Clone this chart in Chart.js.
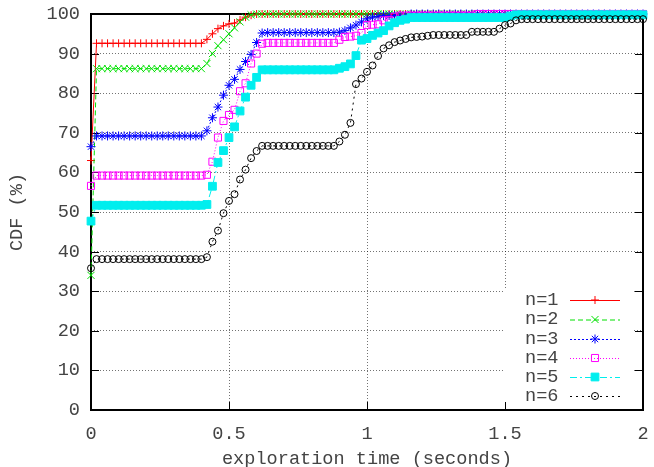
<!DOCTYPE html>
<html>
<head>
<meta charset="utf-8">
<script src="https://cdn.jsdelivr.net/npm/chart.js@4.4.0/dist/chart.umd.min.js"></script>
<style>body{margin:0;background:#fff}</style>
</head>
<body>
<canvas id="cdf" width="654" height="467"></canvas>
<script>
// exploration time (s) at which each CDF sample was taken
var times = [
  0, 0.02, 0.04, 0.06, 0.08, 0.1, 0.12, 0.14, 0.16, 0.18,
  0.2, 0.22, 0.24, 0.26, 0.28, 0.3, 0.32, 0.34, 0.36, 0.38,
  0.4, 0.42, 0.44, 0.46, 0.48, 0.5, 0.52, 0.54, 0.56, 0.58,
  0.6, 0.62, 0.64, 0.66, 0.68, 0.7, 0.72, 0.74, 0.76, 0.78,
  0.8, 0.82, 0.84, 0.86, 0.88, 0.9, 0.92, 0.94, 0.96, 0.98,
  1, 1.02, 1.04, 1.06, 1.08, 1.1, 1.12, 1.14, 1.16, 1.18,
  1.2, 1.22, 1.24, 1.26, 1.28, 1.3, 1.32, 1.34, 1.36, 1.38,
  1.4, 1.42, 1.44, 1.46, 1.48, 1.5, 1.52, 1.54, 1.56, 1.58,
  1.6, 1.62, 1.64, 1.66, 1.68, 1.7, 1.72, 1.74, 1.76, 1.78,
  1.8, 1.82, 1.84, 1.86, 1.88, 1.9, 1.92, 1.94, 1.96, 1.98,
  2
];

var n1 = [
  63, 92.6, 92.6, 92.6, 92.6, 92.6, 92.6, 92.6, 92.6, 92.6,
  92.6, 92.6, 92.6, 92.6, 92.6, 92.6, 92.6, 92.6, 92.6, 92.6,
  92.6, 93.6, 95, 96.3, 97, 97.5, 97.7, 98.5, 99.2, 99.7,
  100, 100, 100, 100, 100, 100, 100, 100, 100, 100,
  100, 100, 100, 100, 100, 100, 100, 100, 100, 100,
  100, 100, 100, 100, 100, 100, 100, 100, 100, 100,
  100, 100, 100, 100, 100, 100, 100, 100, 100, 100,
  100, 100, 100, 100, 100, 100, 100, 100, 100, 100,
  100, 100, 100, 100, 100, 100, 100, 100, 100, 100,
  100, 100, 100, 100, 100, 100, 100, 100, 100, 100,
  100
];
var n2 = [
  34, 86.2, 86.2, 86.2, 86.2, 86.2, 86.2, 86.2, 86.2, 86.2,
  86.2, 86.2, 86.2, 86.2, 86.2, 86.2, 86.2, 86.2, 86.2, 86.2,
  86.2, 87.5, 90, 92, 93.5, 95, 96.5, 98, 99.2, 99.8,
  100, 100, 100, 100, 100, 100, 100, 100, 100, 100,
  100, 100, 100, 100, 100, 100, 100, 100, 100, 100,
  100, 100, 100, 100, 100, 100, 100, 100, 100, 100,
  100, 100, 100, 100, 100, 100, 100, 100, 100, 100,
  100, 100, 100, 100, 100, 100, 100, 100, 100, 100,
  100, 100, 100, 100, 100, 100, 100, 100, 100, 100,
  100, 100, 100, 100, 100, 100, 100, 100, 100, 100,
  100
];
var n3 = [
  66.5, 69.2, 69.2, 69.2, 69.2, 69.2, 69.2, 69.2, 69.2, 69.2,
  69.2, 69.2, 69.2, 69.2, 69.2, 69.2, 69.2, 69.2, 69.2, 69.2,
  69.2, 70.5, 73.8, 76.5, 79.5, 82, 83.5, 86, 88, 89.8,
  92.8, 95.2, 95.3, 95.3, 95.3, 95.3, 95.3, 95.3, 95.3, 95.3,
  95.3, 95.3, 95.3, 95.3, 95.3, 95.4, 95.8, 96.5, 97.2, 98,
  98.8, 99.2, 99.4, 99.6, 99.6, 99.6, 99.6, 99.6, 100, 100,
  100, 100, 100, 100, 100, 100, 100, 100, 100, 100,
  100, 100, 100, 100, 100, 100, 100, 100, 100, 100,
  100, 100, 100, 100, 100, 100, 100, 100, 100, 100,
  100, 100, 100, 100, 100, 100, 100, 100, 100, 100,
  100
];
var n4 = [
  56.6, 59.2, 59.2, 59.2, 59.2, 59.2, 59.2, 59.2, 59.2, 59.2,
  59.2, 59.2, 59.2, 59.2, 59.2, 59.2, 59.2, 59.2, 59.2, 59.2,
  59.2, 59.4, 62.7, 68.8, 73, 74.5, 75.8, 80.5, 82.5, 87.5,
  90, 92.5, 92.7, 92.7, 92.7, 92.7, 92.7, 92.7, 92.7, 92.7,
  92.7, 92.7, 92.7, 92.7, 92.7, 93.5, 94.2, 94.3, 94.5, 95.2,
  97.2, 97.3, 97.4, 98.4, 98.5, 99.3, 99.6, 99.6, 99.6, 99.6,
  99.6, 99.6, 99.6, 99.6, 99.6, 99.6, 99.6, 99.6, 99.6, 99.6,
  100, 100, 100, 100, 100, 100, 100, 100, 100, 100,
  100, 100, 100, 100, 100, 100, 100, 100, 100, 100,
  100, 100, 100, 100, 100, 100, 100, 100, 100, 100,
  100
];
var n5 = [
  47.7, 51.7, 51.7, 51.7, 51.7, 51.7, 51.7, 51.7, 51.7, 51.7,
  51.7, 51.7, 51.7, 51.7, 51.7, 51.7, 51.7, 51.7, 51.7, 51.7,
  51.7, 51.9, 56.5, 62.5, 65.5, 68.8, 71.5, 75.5, 79, 82,
  84, 85.9, 85.9, 85.9, 85.9, 85.9, 85.9, 85.9, 85.9, 85.9,
  85.9, 85.9, 85.9, 85.9, 85.9, 86.3, 86.7, 87.4, 89.5, 93.4,
  93.8, 94.6, 95.2, 95.8, 97, 97.8, 98.4, 98.7, 99.1, 99.1,
  99.1, 99.1, 99.1, 99.1, 99.1, 99.1, 99.1, 99.1, 99.1, 99.1,
  99.1, 99.1, 99.1, 99.1, 99.1, 99.1, 99.5, 99.8, 99.8, 99.8,
  99.8, 99.8, 99.8, 99.8, 99.8, 99.8, 99.8, 99.8, 99.8, 99.8,
  99.8, 99.8, 99.8, 99.8, 99.8, 99.8, 99.8, 99.8, 99.8, 99.8,
  99.8
];
var n6 = [
  35.8, 38.1, 38.1, 38.1, 38.1, 38.1, 38.1, 38.1, 38.1, 38.1,
  38.1, 38.1, 38.1, 38.1, 38.1, 38.1, 38.1, 38.1, 38.1, 38.1,
  38.1, 38.6, 42.5, 45.3, 49.7, 52.8, 54.5, 58.2, 60.7, 63.6,
  65.4, 66.7, 66.7, 66.7, 66.7, 66.7, 66.7, 66.7, 66.7, 66.7,
  66.7, 66.7, 66.7, 66.7, 66.7, 67.8, 69.5, 72.5, 82.3, 83.7,
  85.4, 87, 89.4, 91.3, 92.1, 92.9, 93.3, 93.7, 94.1, 94.2,
  94.3, 94.5, 94.7, 94.7, 94.7, 94.7, 94.7, 94.7, 94.7, 95.5,
  95.5, 95.5, 95.5, 95.5, 96.3, 97.2, 97.6, 98.4, 98.7, 98.7,
  98.7, 98.7, 98.7, 98.7, 98.7, 98.7, 98.7, 98.7, 98.7, 98.7,
  98.7, 98.7, 98.7, 98.7, 98.7, 98.7, 98.7, 98.7, 98.7, 98.7,
  98.7
];

var seriesNames = ['n=1', 'n=2', 'n=3', 'n=4', 'n=5', 'n=6'];
var xTicks = [0, 0.5, 1, 1.5, 2];
var yTicks = [0, 10, 20, 30, 40, 50, 60, 70, 80, 90, 100];

var FONT = {family: '"Liberation Mono", "DejaVu Sans Mono", monospace', size: 18.6};
var TEXT = '#444';

// gnuplot-ish line/point styles
var styles = [
  {color: '#ff0000', dash: [],           point: 'cross',    r: 4,   fill: false},
  {color: '#00e000', dash: [5, 3],       point: 'crossRot', r: 5,   fill: false},
  {color: '#0000ff', dash: [2, 2],       point: 'star',     r: 4.5, fill: false},
  {color: '#ff00ff', dash: [1, 2],       point: 'rect',     r: 5,   fill: false},
  {color: '#00eeee', dash: [7, 3, 2, 3], point: 'rect',     r: 5.5, fill: true},
  {color: '#000000', dash: [2, 4],       point: 'circle',   r: 3.5, fill: false}
];

var series = [n1, n2, n3, n4, n5, n6];
var datasets = series.map(function(vals, i) {
  var s = styles[i];
  return {
    label: seriesNames[i],
    data: vals.map(function(v, j) { return {x: times[j], y: v}; }),
    borderColor: s.color,
    backgroundColor: s.fill ? s.color : 'rgba(0,0,0,0)',
    pointBackgroundColor: s.fill ? s.color : 'rgba(0,0,0,0)',
    pointBorderColor: s.color,
    pointStyle: s.point,
    pointRadius: s.r,
    pointBorderWidth: 1,
    borderWidth: 1,
    borderDash: s.dash,
    tension: 0,
    fill: false,
    clip: false,
    order: 6 - i
  };
});

var frame = {
  id: 'frame',
  beforeDatasetsDraw: function(chart) {
    var ctx = chart.ctx, a = chart.chartArea;
    var xs = chart.scales.x, ys = chart.scales.y;
    ctx.save();
    // key box hides the grid behind it
    ctx.fillStyle = '#fff';
    ctx.fillRect(505, 288, a.right - 11 - 505, a.bottom - 288);
    ctx.strokeStyle = '#000';
    ctx.lineWidth = 1;
    ctx.beginPath();
    xTicks.forEach(function(v) {
      var px = Math.round(xs.getPixelForValue(v)) + 0.5;
      ctx.moveTo(px, a.bottom); ctx.lineTo(px, a.bottom - 8);
      ctx.moveTo(px, a.top); ctx.lineTo(px, a.top + 8);
    });
    yTicks.forEach(function(v) {
      var py = Math.round(ys.getPixelForValue(v)) + 0.5;
      ctx.moveTo(a.left, py); ctx.lineTo(a.left + 8, py);
      ctx.moveTo(a.right, py); ctx.lineTo(a.right - 8, py);
    });
    ctx.stroke();
    ctx.lineWidth = 2;
    ctx.strokeRect(a.left, a.top, a.right - a.left, a.bottom - a.top);
    ctx.restore();
  },
  afterDraw: function(chart) {
    var ctx = chart.ctx;
    var rows = [300, 319.5, 339, 358, 377, 396];
    ctx.save();
    ctx.font = FONT.size + 'px ' + FONT.family;
    ctx.textBaseline = 'middle';
    ctx.textAlign = 'left';
    styles.forEach(function(s, i) {
      var y = rows[i];
      ctx.fillStyle = TEXT;
      ctx.fillText(seriesNames[i], 525, y);
      ctx.strokeStyle = s.color;
      ctx.lineWidth = 1;
      ctx.setLineDash(s.dash);
      ctx.beginPath();
      ctx.moveTo(570, y + 0.5); ctx.lineTo(620, y + 0.5);
      ctx.stroke();
      ctx.setLineDash([]);
      ctx.fillStyle = s.fill ? s.color : 'rgba(0,0,0,0)';
      Chart.helpers.drawPoint(ctx, {pointStyle: s.point, radius: s.r, rotation: 0, borderWidth: 1}, 595, y);
    });
    ctx.restore();
  }
};

new Chart(document.getElementById('cdf'), {
  type: 'line',
  data: {datasets: datasets},
  options: {
    responsive: false,
    animation: false,
    layout: {padding: {top: 14, right: 11, left: 0, bottom: 0}},
    plugins: {legend: {display: false}, tooltip: {enabled: false}},
    scales: {
      x: {
        type: 'linear', min: 0, max: 2,
        afterBuildTicks: function(s) { s.ticks = xTicks.map(function(v) { return {value: v}; }); },
        afterFit: function(s) { s.height = 57; s.paddingLeft = 0; s.paddingRight = 0; },
        ticks: {font: FONT, color: TEXT, padding: 13, maxRotation: 0,
                callback: function(v) { return String(v); }},
        grid: {color: 'rgba(0,0,0,0.55)', drawTicks: false},
        border: {display: false, dash: [1, 2]},
        title: {display: true, text: 'exploration time (seconds)', font: FONT, color: TEXT, padding: {top: 0, bottom: -3}}
      },
      y: {
        type: 'linear', min: 0, max: 100,
        afterBuildTicks: function(s) { s.ticks = yTicks.map(function(v) { return {value: v}; }); },
        afterFit: function(s) { s.width = 91; s.paddingTop = 0; s.paddingBottom = 0; },
        ticks: {font: FONT, color: TEXT, padding: 11},
        grid: {color: 'rgba(0,0,0,0.55)', drawTicks: false},
        border: {display: false, dash: [1, 2]},
        title: {display: true, text: 'CDF (%)', font: FONT, color: TEXT, padding: {top: 6, bottom: 0}}
      }
    }
  },
  plugins: [frame]
});
</script>
</body>
</html>
